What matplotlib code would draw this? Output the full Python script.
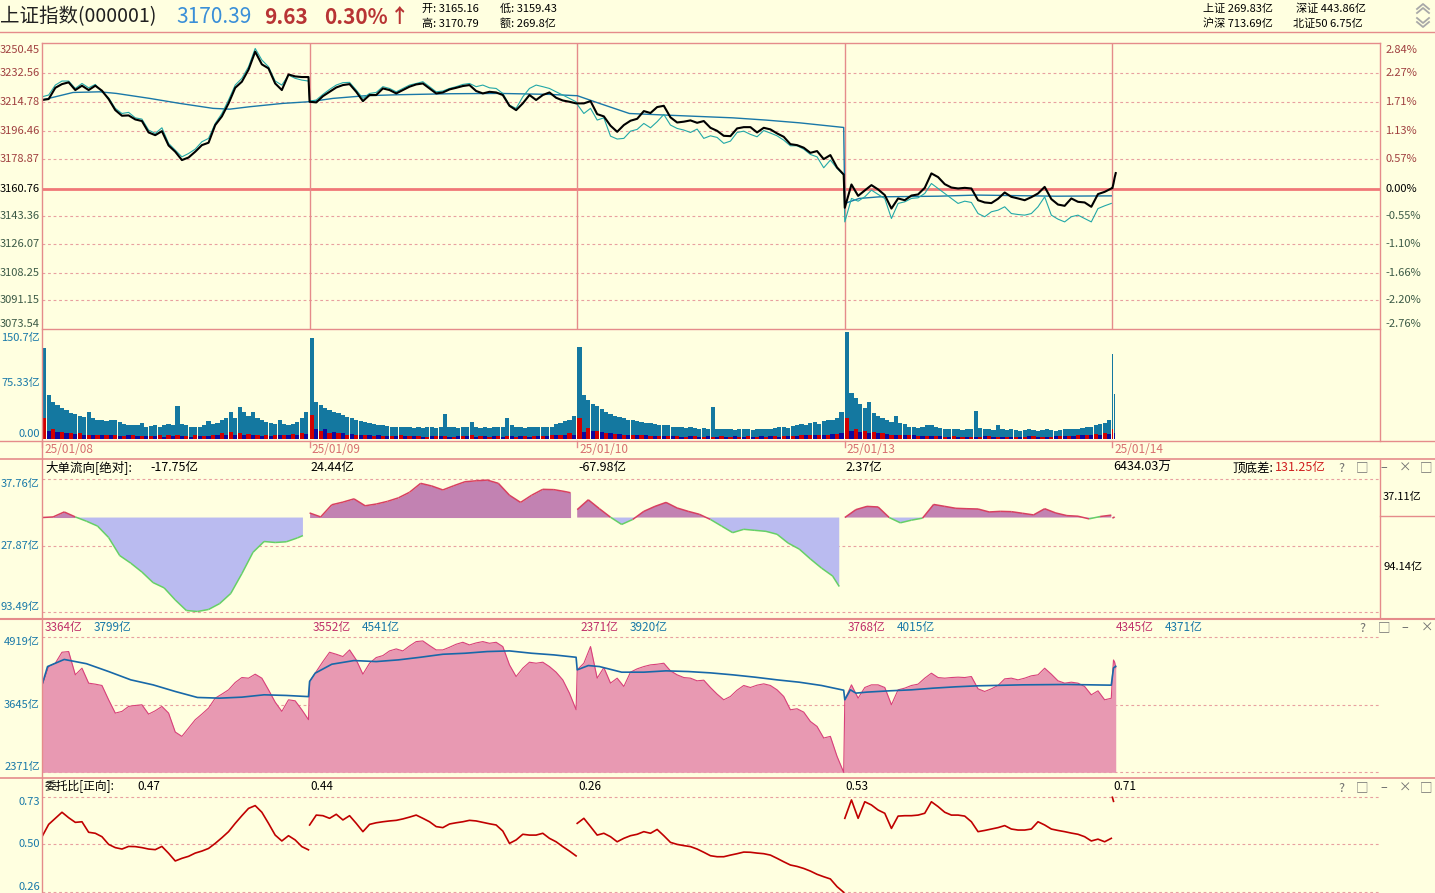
import numpy as np
import matplotlib.pyplot as plt
from matplotlib.lines import Line2D
from matplotlib.collections import LineCollection

plt.rcParams['font.family'] = ['Noto Sans CJK SC', 'DejaVu Sans']

W, H = 1435, 893
BG = '#FFFFE0'
BORDER = '#E58B8B'
GRID = '#E8A0A0'
BLUE_TXT = '#1878A8'

# ---------------- 数据 ----------------
day_labels = ['25/01/08', '25/01/09', '25/01/10', '25/01/13', '25/01/14']
prev_close = 3160.76

price_ticks = [3250.45, 3232.56, 3214.78, 3196.46, 3178.87, 3160.76,
               3143.36, 3126.07, 3108.25, 3091.15, 3073.54]
pct_ticks = ['2.84%', '2.27%', '1.71%', '1.13%', '0.57%', '0.00%',
             '-0.55%', '-1.10%', '-1.66%', '-2.20%', '-2.76%']

# 指数（每6分钟一个点）
price_d1 = [3215.9, 3216.5, 3223.5, 3225.8, 3226.9, 3222.1, 3224.8, 3222.1, 3224.8, 3221.7,
            3216.5, 3209.6, 3206.1, 3206.3, 3203.8, 3202.8, 3195.7, 3194.0, 3196.5, 3187.6,
            3183.7, 3178.5, 3180.1, 3183.7, 3187.8, 3189.3, 3200.3, 3205.7, 3213.8, 3223.5,
            3227.3, 3234.8, 3246.0, 3238.1, 3235.6, 3226.2, 3222.1, 3231.8, 3230.6, 3230.2, 3230.2]
price_d2 = [3214.8, 3214.4, 3218.3, 3221.0, 3223.7, 3225.2, 3225.8, 3221.0, 3215.2, 3219.0,
            3219.0, 3223.1, 3222.1, 3220.0, 3222.1, 3224.2, 3225.6, 3226.2, 3223.1, 3220.0,
            3220.6, 3222.5, 3223.5, 3224.6, 3225.2, 3221.5, 3220.0, 3221.0, 3220.6, 3219.0,
            3212.3, 3209.6, 3213.8, 3219.0, 3215.9, 3219.0, 3220.6, 3217.3, 3215.6, 3214.8, 3213.8]
price_d3 = [3213.8, 3213.8, 3215.2, 3207.1, 3205.7, 3199.9, 3196.1, 3200.3, 3203.0, 3204.2,
            3209.0, 3207.8, 3211.5, 3212.3, 3205.1, 3201.9, 3202.4, 3203.2, 3201.7, 3202.8,
            3198.6, 3196.7, 3193.6, 3193.4, 3198.2, 3199.0, 3199.0, 3195.7, 3198.6, 3197.6,
            3195.1, 3193.0, 3188.4, 3187.8, 3186.2, 3183.0, 3184.1, 3179.1, 3181.6, 3173.9, 3169.5]
price_d4 = [3148.8, 3163.3, 3156.2, 3159.6, 3162.9, 3160.2, 3156.7, 3148.3, 3154.6, 3153.5,
            3156.4, 3157.1, 3161.2, 3170.2, 3167.9, 3163.5, 3161.4, 3160.8, 3161.2, 3160.8,
            3153.5, 3152.1, 3151.7, 3154.4, 3158.3, 3155.6, 3154.6, 3153.5, 3155.4, 3157.7,
            3161.8, 3154.2, 3150.8, 3150.0, 3154.6, 3152.5, 3152.1, 3149.4, 3157.3, 3158.7, 3160.8]
price_d5 = [3161.0, 3164.0, 3167.5, 3170.39]

# 领先指标（细青线）
lead_d1 = [3217.9, 3219.0, 3225.2, 3227.7, 3227.7, 3223.1, 3226.2, 3223.5, 3225.6, 3221.0,
           3217.3, 3210.7, 3207.5, 3208.2, 3204.8, 3204.0, 3197.2, 3195.1, 3198.6, 3188.9,
           3184.7, 3180.5, 3182.6, 3185.3, 3189.9, 3192.0, 3201.3, 3207.5, 3215.9, 3225.2,
           3229.4, 3236.6, 3248.0, 3240.8, 3236.6, 3227.7, 3225.2, 3231.4, 3229.4, 3228.3, 3227.7]
lead_d2 = [3215.2, 3215.9, 3219.4, 3222.5, 3225.2, 3226.7, 3226.9, 3222.1, 3216.9, 3220.0,
           3220.6, 3224.2, 3223.1, 3221.0, 3223.1, 3225.2, 3226.2, 3227.3, 3224.2, 3221.0,
           3221.5, 3223.1, 3224.2, 3225.6, 3226.2, 3224.2, 3225.2, 3223.5, 3223.1, 3220.0,
           3212.7, 3210.7, 3217.9, 3223.1, 3225.2, 3224.2, 3223.1, 3221.0, 3219.0, 3216.9, 3214.8]
lead_d3 = [3213.2, 3207.5, 3210.7, 3203.4, 3204.8, 3193.4, 3191.6, 3192.0, 3196.5, 3197.6,
           3201.3, 3198.6, 3202.4, 3206.9, 3200.3, 3198.2, 3197.2, 3195.7, 3197.8, 3192.0,
           3193.6, 3192.6, 3188.9, 3190.3, 3195.7, 3196.5, 3194.5, 3193.0, 3196.9, 3195.3,
           3193.6, 3190.9, 3187.4, 3187.4, 3185.3, 3182.0, 3180.5, 3173.7, 3178.5, 3173.3, 3169.1]
lead_d4 = [3140.0, 3154.6, 3152.9, 3155.6, 3159.8, 3157.1, 3154.6, 3142.1, 3151.5, 3152.5,
           3154.6, 3155.0, 3157.7, 3163.9, 3160.8, 3157.7, 3154.6, 3151.5, 3152.9, 3152.1,
           3145.2, 3143.2, 3146.3, 3147.3, 3149.4, 3145.2, 3144.6, 3144.2, 3145.2, 3149.4,
           3155.6, 3144.2, 3141.7, 3140.0, 3143.2, 3144.2, 3142.1, 3140.0, 3148.3, 3150.0, 3151.5]

# 均价线
avg_t = [[0, 28, 52, 67, 97, 124, 154, 169, 187, 217, 240],
         [0, 21, 51, 81, 126, 171, 216, 240],
         [0, 20, 47, 80, 140, 170, 200, 240],
         [0, 13, 31, 84, 119, 190, 240]]
avg_v = [[3215.9, 3220.6, 3221.0, 3220.0, 3216.9, 3213.8, 3210.7, 3210.2, 3211.7, 3213.8, 3214.8],
         [3214.8, 3216.9, 3218.6, 3219.2, 3219.8, 3220.0, 3219.4, 3218.6],
         [3218.6, 3213.8, 3207.5, 3206.5, 3204.8, 3203.4, 3201.7, 3198.8],
         [3151.5, 3154.6, 3155.6, 3156.0, 3156.7, 3156.0, 3156.2]]

# 成交额（每4分钟一根，亿）
vol_d1 = [135, 65, 55, 50, 46, 42, 38, 36, 34, 32, 39, 30, 28, 27, 26, 27, 28, 25, 22, 20,
          21, 20, 24, 18, 19, 20, 18, 20, 22, 20, 49, 22, 20, 18, 17, 18, 20, 26, 22, 24,
          28, 30, 39, 30, 47, 39, 34, 39, 30, 28, 25, 23, 22, 27, 22, 20, 22, 25, 30, 39]
vol_d2 = [150, 55, 50, 46, 43, 40, 38, 35, 32, 30, 28, 26, 25, 24, 22, 21, 20, 19, 18, 18,
          17, 17, 18, 16, 17, 16, 17, 18, 16, 17, 36, 18, 17, 16, 17, 18, 25, 17, 16, 17,
          16, 17, 18, 17, 31, 20, 18, 17, 16, 17, 18, 17, 18, 17, 18, 22, 24, 26, 28, 34]
vol_d3 = [137, 65, 58, 52, 48, 44, 40, 36, 34, 32, 30, 28, 27, 26, 25, 24, 23, 22, 21, 20,
          20, 18, 18, 17, 16, 17, 16, 15, 16, 15, 47, 15, 14, 15, 14, 13, 14, 15, 14, 13,
          14, 15, 14, 15, 16, 17, 18, 16, 19, 20, 22, 21, 24, 25, 22, 26, 28, 27, 30, 40]
vol_d4 = [160, 68, 60, 52, 46, 54, 38, 33, 30, 27, 25, 34, 24, 22, 18, 17, 16, 17, 20, 21,
          18, 16, 15, 14, 15, 14, 13, 14, 15, 41, 16, 15, 14, 13, 20, 14, 13, 14, 13, 12,
          13, 14, 13, 12, 13, 14, 13, 12, 13, 14, 15, 14, 15, 16, 17, 18, 20, 22, 24, 27]
vol_d5 = [127, 67]

# 主买/主卖（每8分钟）
buy = [[30, 14, 10, 9, 8, 6, 5, 6, 5, 4, 5, 4, 4, 5, 6, 5, 4, 5, 4, 6, 8, 10, 9, 7, 6, 5, 5, 6, 7, 8],
       [35, 12, 9, 8, 6, 5, 5, 4, 4, 4, 5, 4, 4, 3, 4, 4, 3, 4, 5, 4, 3, 4, 4, 3, 4, 4, 4, 5, 6, 8],
       [30, 16, 12, 8, 7, 6, 5, 5, 4, 4, 4, 4, 3, 4, 3, 3, 4, 3, 3, 4, 3, 3, 4, 4, 4, 5, 5, 5, 6, 7],
       [30, 14, 12, 10, 8, 6, 5, 5, 4, 4, 4, 3, 4, 3, 3, 3, 4, 3, 3, 3, 3, 4, 3, 3, 4, 4, 5, 6, 7, 8]]
sell = [[12, 10, 8, 7, 6, 6, 5, 5, 4, 5, 4, 4, 4, 3, 4, 4, 3, 4, 4, 5, 6, 6, 5, 5, 4, 4, 5, 5, 6, 7],
        [15, 14, 10, 8, 7, 6, 5, 5, 4, 4, 4, 4, 3, 4, 4, 3, 4, 4, 3, 4, 4, 3, 4, 4, 3, 4, 4, 5, 5, 6],
        [10, 12, 10, 9, 7, 6, 6, 5, 4, 4, 4, 3, 4, 3, 4, 3, 3, 4, 3, 3, 4, 4, 3, 4, 4, 5, 5, 6, 7, 8],
        [12, 10, 9, 8, 7, 6, 5, 5, 4, 4, 4, 3, 3, 3, 3, 4, 3, 3, 3, 3, 4, 3, 3, 4, 4, 4, 5, 5, 6, 7]]
buy_d5, sell_d5 = 15, 9

# 大单流向（亿，每10分钟）
flow_t = [list(range(0, 231, 10)) + [235], list(range(0, 231, 10)) + [235],
          list(range(0, 231, 10)) + [236], list(range(0, 241, 10)), [0, 2]]
flow_v = [[0, 0.6, 5.5, 0.6, -3.6, -8.4, -19.7, -37.5, -45.0, -53.7, -64.1, -69.3, -81.2,
           -91.6, -92.6, -90.6, -84.8, -74.8, -55.3, -34.3, -23.6, -24.6, -23.9, -20.1, -17.75],
          [4.5, 0.6, 12.6, 15.2, 18.4, 11.6, 13.3, 15.9, 19.4, 24.9, 33.7, 31.1, 27.2,
           31.4, 35.3, 36.2, 36.9, 33.7, 22.0, 14.9, 22.0, 27.8, 27.5, 25.6, 24.44],
          [7.8, 17.5, 8.7, 0.3, -6.8, -1.9, 6.1, 11.0, 14.9, 9.4, 6.1, 3.2, -1.9,
           -8.4, -14.9, -11.6, -12.6, -13.6, -16.5, -25.2, -31.1, -40.8, -49.8, -57.6, -67.98],
          [0, 7.8, 11.0, 10.4, 0, -5.2, -2.6, -0.6, 12.9, 11.0, 9.1, 8.7, 8.4,
           5.5, 6.1, 5.8, 4.2, 2.6, 8.7, 4.5, 1.9, 1.3, -1.3, 1.0, 2.37],
          [-0.6, 0.64]]
flow_head = ['-17.75亿', '24.44亿', '-67.98亿', '2.37亿', '6434.03万']

# 成交额累计（亿，每6分钟）
amt_d1 = [3990, 4366, 4429, 4636, 4649, 4210, 4335, 4053, 4034, 4009, 3739, 3488, 3520, 3614,
          3632, 3645, 3469, 3532, 3614, 3488, 3131, 3049, 3206, 3363, 3469, 3583, 3770, 3846,
          3927, 4065, 4159, 4147, 4222, 4147, 3927, 3695, 3520, 3739, 3720, 3551, 3364]
amt_d2 = [4084, 4272, 4460, 4636, 4598, 4555, 4680, 4492, 4222, 4429, 4536, 4573, 4661, 4699,
          4661, 4755, 4837, 4849, 4762, 4680, 4680, 4730, 4787, 4824, 4774, 4812, 4837, 4805,
          4824, 4743, 4398, 4178, 4335, 4448, 4429, 4448, 4366, 4260, 4115, 3865, 3552]
amt_d3 = [4304, 4429, 4743, 4147, 4347, 4053, 4147, 3990, 4260, 4323, 4366, 4398, 4410, 4429,
          4285, 4210, 4159, 4147, 4097, 4109, 3971, 3846, 3739, 3802, 3921, 4009, 3971, 4015,
          4040, 4009, 3927, 3802, 3551, 3570, 3507, 3331, 3237, 3018, 3049, 2673, 2371]
amt_d4 = [3739, 4021, 3770, 3971, 4021, 4021, 3971, 3645, 3927, 3959, 4009, 4034, 4147, 4241,
          4159, 4147, 4159, 4166, 4159, 4178, 3946, 3896, 3946, 4009, 4134, 4147, 4115, 4147,
          4191, 4210, 4335, 4222, 4097, 4053, 4071, 4053, 3990, 3833, 3908, 3739, 3768]
amt_d5 = [4180, 4490, 4450, 4345]
amt_avg_t = [[0, 5, 20, 40, 60, 80, 100, 120, 140, 160, 180, 200, 220, 240],
             [0, 5, 20, 40, 60, 80, 100, 120, 140, 160, 180, 200, 220, 240],
             [0, 10, 20, 40, 60, 80, 100, 120, 140, 160, 180, 200, 220, 240],
             [0, 5, 10, 20, 40, 60, 80, 100, 120, 160, 200, 240],
             [0, 1, 3]]
amt_avg_v = [[4021, 4366, 4500, 4420, 4272, 4115, 4021, 3896, 3783, 3770, 3789, 3833, 3821, 3799],
             [4084, 4241, 4410, 4479, 4460, 4492, 4542, 4598, 4617, 4649, 4661, 4617, 4586, 4541],
             [4304, 4385, 4366, 4260, 4260, 4285, 4272, 4247, 4210, 4166, 4115, 4071, 4009, 3920],
             [3739, 3927, 3865, 3884, 3908, 3927, 3959, 3984, 4003, 4021, 4028, 4015],
             [4180, 4340, 4371]]
amt_head = [('3364亿', '3799亿'), ('3552亿', '4541亿'), ('2371亿', '3920亿'),
            ('3768亿', '4015亿'), ('4345亿', '4371亿')]

# 委托比（每6分钟）
ratio_d1 = [0.535, 0.596, 0.626, 0.656, 0.629, 0.606, 0.609, 0.557, 0.552, 0.535, 0.497,
            0.481, 0.474, 0.487, 0.486, 0.481, 0.474, 0.471, 0.487, 0.453, 0.415, 0.428,
            0.438, 0.454, 0.464, 0.477, 0.502, 0.530, 0.560, 0.601, 0.639, 0.675, 0.689,
            0.656, 0.601, 0.543, 0.514, 0.540, 0.519, 0.486, 0.47]
ratio_d2 = [0.593, 0.642, 0.639, 0.626, 0.646, 0.618, 0.639, 0.601, 0.560, 0.596, 0.604,
            0.609, 0.613, 0.616, 0.623, 0.632, 0.642, 0.626, 0.609, 0.585, 0.580, 0.598,
            0.604, 0.609, 0.616, 0.613, 0.606, 0.599, 0.593, 0.563, 0.502, 0.519, 0.547,
            0.543, 0.543, 0.552, 0.527, 0.510, 0.486, 0.464, 0.44]
ratio_d3 = [0.601, 0.626, 0.585, 0.543, 0.552, 0.535, 0.510, 0.527, 0.540, 0.547, 0.560,
            0.552, 0.571, 0.540, 0.507, 0.497, 0.491, 0.486, 0.474, 0.458, 0.441, 0.436,
            0.436, 0.444, 0.451, 0.459, 0.458, 0.454, 0.451, 0.444, 0.428, 0.411, 0.395,
            0.388, 0.378, 0.365, 0.349, 0.337, 0.326, 0.288, 0.26]
ratio_d4 = [0.626, 0.717, 0.626, 0.708, 0.692, 0.667, 0.651, 0.576, 0.637, 0.639, 0.639,
            0.642, 0.651, 0.708, 0.684, 0.656, 0.642, 0.642, 0.637, 0.609, 0.560, 0.566,
            0.573, 0.580, 0.590, 0.573, 0.568, 0.568, 0.573, 0.609, 0.593, 0.573, 0.566,
            0.560, 0.553, 0.547, 0.535, 0.514, 0.523, 0.510, 0.527]
ratio_d5 = [0.73, 0.71]
ratio_head = ['0.47', '0.44', '0.26', '0.53', '0.71']

# ---------------- 绘图 ----------------
fig = plt.figure(figsize=(W / 100, H / 100), dpi=100)
fig.patch.set_facecolor(BG)
DAY = 241
X0, X1 = 42, 1380


def rect(x0, y0, x1, y1):
    return [x0 / W, 1 - y1 / H, (x1 - x0) / W, (y1 - y0) / H]


def ptext(x, y, s, size=8, color='#000000', ha='left', va='center', **kw):
    fig.text(x / W, 1 - y / H, s, fontsize=size, color=color, ha=ha, va=va, **kw)


def pline(xs, ys, color=BORDER, lw=1.0, **kw):
    fig.add_artist(Line2D([x / W for x in xs], [1 - y / H for y in ys],
                          color=color, lw=lw, **kw))


def make_ax(y0, y1, ylim):
    ax = fig.add_axes(rect(X0, y0, X1, y1))
    ax.set_facecolor('none')
    ax.set_xlim(0, 5 * DAY)
    ax.set_ylim(*ylim)
    for s in ax.spines.values():
        s.set_visible(False)
    ax.set_xticks([])
    ax.tick_params(axis='y', length=0, pad=1.5, labelsize=8)
    return ax


def set_ticks(ax, vals, labels, colors, vas):
    ax.set_yticks(vals, labels)
    for lab, c, va in zip(ax.get_yticklabels(), colors, vas):
        lab.set_color(c)
        lab.set_va(va)


def tx(d, n, step):
    return d * DAY + np.arange(n) * step


dash = (0, (2.5, 2.5))

# ---- 分时价格 ----
axp = make_ax(43, 329, (3073.3, 3251.4))
pcol = ['#A04040'] * 5 + ['#000000'] + ['#3C5A46'] * 5
vas = ['top'] + ['center'] * 9 + ['bottom']
set_ticks(axp, price_ticks, [f'{v:.2f}' for v in price_ticks], pcol, vas)
axr = axp.twinx()
axr.set_ylim(axp.get_ylim())
for s in axr.spines.values():
    s.set_visible(False)
axr.tick_params(axis='y', length=0, pad=4, labelsize=8)
set_ticks(axr, price_ticks, pct_ticks, pcol, vas)
for v in price_ticks[1:-1]:
    if v == prev_close:
        axp.axhline(v, color='#F07878', lw=2.0, zorder=1)
    else:
        axp.axhline(v, color=GRID, lw=0.8, ls=dash, zorder=1)
for d in range(1, 5):
    axp.axvline(d * DAY, color=BORDER, lw=1.0, zorder=1)

days_price = [price_d1, price_d2, price_d3, price_d4]
days_lead = [lead_d1, lead_d2, lead_d3, lead_d4]
px = np.concatenate([tx(d, len(a), 6) for d, a in enumerate(days_price)] + [4 * DAY + np.arange(len(price_d5))])
py = np.concatenate(days_price + [price_d5])
lx = np.concatenate([tx(d, len(a), 6) for d, a in enumerate(days_lead)])
ly = np.concatenate(days_lead)
ax_ = np.concatenate([d * DAY + np.array(t) for d, t in enumerate(avg_t)])
ay_ = np.concatenate(avg_v)
axp.plot(ax_, ay_, color='#1A78A8', lw=1.0, zorder=2)
axp.plot(lx, ly, color='#22A8A8', lw=0.8, zorder=3)
axp.plot(px, py, color='#000000', lw=1.5, zorder=4)

# ---- 成交额柱 ----
axv = make_ax(329, 441, (-3.7, 164))
set_ticks(axv, [150.7, 75.33, 0], ['150.7亿', '75.33亿', '0.00'],
          [BLUE_TXT] * 3, ['center', 'bottom', 'bottom'])
for d, vols in enumerate([vol_d1, vol_d2, vol_d3, vol_d4]):
    axv.bar(d * DAY + np.arange(len(vols)) * 4 + 2, vols, width=3.8,
            color='#1478A0', linewidth=0)
    xb = d * DAY + np.arange(len(buy[d])) * 8
    axv.bar(xb + 2, buy[d], width=3.8, color='#D00000', linewidth=0)
    axv.bar(xb + 6, sell[d], width=3.8, color='#0A0AA0', linewidth=0)
axv.bar(4 * DAY + np.arange(len(vol_d5)) + 0.5, vol_d5, width=0.9, color='#1478A0', linewidth=0)
axv.bar([4 * DAY + 0.5], [buy_d5], width=0.9, color='#D00000', linewidth=0)
axv.bar([4 * DAY + 1.5], [sell_d5], width=0.9, color='#0A0AA0', linewidth=0)

# 日期
for d, lab in enumerate(day_labels):
    xp = X0 + d * (X1 - X0) / 5
    ptext(xp + 2, 449.5, lab, size=8.5, color='#D87070')
    pline([xp, xp], [441, 447])

# ---- 大单流向 ----
axf = make_ax(460, 618, (-99.0, 56.7))
set_ticks(axf, [37.76, -27.87, -93.49], ['37.76亿', '27.87亿', '93.49亿'],
          [BLUE_TXT] * 3, ['top', 'center', 'bottom'])
for v in [37.76, -27.87, -93.49]:
    axf.axhline(v, color=GRID, lw=0.8, ls=dash, zorder=1)
for d in range(5):
    x = d * DAY + np.array(flow_t[d])
    y = np.array(flow_v[d])
    axf.fill_between(x, y, 0, where=y >= 0, interpolate=True, color='#C282B2', lw=0)
    axf.fill_between(x, y, 0, where=y <= 0, interpolate=True, color='#BABBF0', lw=0)
    segs = np.stack([np.column_stack([x[:-1], y[:-1]]), np.column_stack([x[1:], y[1:]])], axis=1)
    cols = ['#D84060' if (a + b) >= 0 else '#66D066' for a, b in zip(y[:-1], y[1:])]
    axf.add_collection(LineCollection(segs, colors=cols, lw=1.1))

ptext(45, 467.5, '大单流向[绝对]:', size=9)
ptext(150, 467.5, flow_head[0], size=9)
for d in range(1, 5):
    ptext(X0 + d * (X1 - X0) / 5 + 1, 467.5, flow_head[d], size=9)
ptext(1232, 468, '顶底差:', size=9)
ptext(1275, 468, '131.25亿', size=9, color='#D02020')
ptext(1383, 497, '37.11亿', size=8)
ptext(1383, 567, '94.14亿', size=8)
pline([1380, W], [516, 516])

# ---- 成交额累计 ----
axa = make_ax(619, 778, (2264, 5263))
set_ticks(axa, [4919, 3645, 2371], ['4919亿', '3645亿', '2371亿'],
          [BLUE_TXT] * 3, ['top', 'center', 'bottom'])
for v in [4919, 3645, 2371]:
    axa.axhline(v, color=GRID, lw=0.8, ls=dash, zorder=1)
days_amt = [amt_d1, amt_d2, amt_d3, amt_d4]
amx = np.concatenate([tx(d, len(a), 6) for d, a in enumerate(days_amt)] + [4 * DAY + np.arange(len(amt_d5))])
amy = np.concatenate(days_amt + [amt_d5])
axa.fill_between(amx, amy, 2371, color='#E899B2', lw=0, zorder=2)
axa.plot(amx, amy, color='#D8407A', lw=0.8, zorder=3)
avx = np.concatenate([d * DAY + np.array(t) for d, t in enumerate(amt_avg_t)])
avy = np.concatenate(amt_avg_v)
axa.plot(avx, avy, color='#1868A8', lw=1.2, zorder=4)
for d, (a, b) in enumerate(amt_head):
    xp = X0 + d * (X1 - X0) / 5 + 3
    ptext(xp, 627.5, a, size=8.5, color='#C0306A')
    ptext(xp + 49, 627.5, b, size=8.5, color=BLUE_TXT)

# ---- 委托比 ----
axw = make_ax(778, 893, (0.2565, 0.8255))
set_ticks(axw, [0.73, 0.50, 0.26], ['0.73', '0.50', '0.26'],
          [BLUE_TXT] * 3, ['top', 'center', 'bottom'])
for v in [0.73, 0.50, 0.26]:
    axw.axhline(v, color=GRID, lw=0.8, ls=dash, zorder=1)
for d, r in enumerate([ratio_d1, ratio_d2, ratio_d3, ratio_d4]):
    axw.plot(tx(d, len(r), 6), r, color='#C00000', lw=1.2)
axw.plot(4 * DAY + np.arange(len(ratio_d5)), ratio_d5, color='#C00000', lw=1.2)
ptext(45, 787, '委托比[正向]:', size=8.5)
ptext(137, 787, ratio_head[0], size=8.5)
for d in range(1, 5):
    ptext(X0 + d * (X1 - X0) / 5 + 1, 787, ratio_head[d], size=8.5)

# 面板图标
for yy, xs in [(468, [1341, 1362, 1384, 1405, 1426]), (628, [1362, 1384, 1405, 1427]),
               (788, [1341, 1362, 1384, 1405, 1426])]:
    for xx, s in zip(xs, ['?', '□', '–', '×', '□']):
        ptext(xx, yy, s, size=9, color='#707070', ha='center')

# ---- 边框 ----
pline([0, W], [32, 32])
pline([X0, X1], [43, 43])
pline([X0, X1], [329, 329])
pline([0, W], [441, 441])
pline([0, W], [459.5, 459.5], lw=1.2)
pline([0, W], [618.5, 618.5], lw=1.5)
pline([0, W], [778, 778], lw=1.2)
pline([X0, X0], [43, H])
pline([X1, X1], [43, 441])
pline([X1, X1], [460, 618])

# ---- 顶部信息 ----
ptext(0, 17, '上证指数(000001)', size=14, color='#202020')
ptext(176, 17, '3170.39', size=15, color='#3A8FD8')
ptext(264, 17, '9.63', size=15, color='#B83434', weight='bold')
ptext(324, 17, '0.30%', size=15, color='#B83434', weight='bold')
ptext(390, 17, '↑', size=14, color='#B83434', weight='bold')
ptext(422, 9, '开: 3165.16', size=8)
ptext(500, 9, '低: 3159.43', size=8)
ptext(422, 24, '高: 3170.79', size=8)
ptext(500, 24, '额: 269.8亿', size=8)
ptext(1203, 9, '上证 269.83亿', size=8)
ptext(1296, 9, '深证 443.86亿', size=8)
ptext(1203, 24, '沪深 713.69亿', size=8)
ptext(1293, 24, '北证50 6.75亿', size=8)
for y0 in (4, 8):
    pline([1417, 1423, 1429], [y0 + 5, y0, y0 + 5], color='#A8A8A8', lw=1.3)
for y0 in (23, 27):
    pline([1417, 1423, 1429], [y0 - 5, y0, y0 - 5], color='#A8A8A8', lw=1.3)

fig.savefig('out.png', dpi=100, facecolor=BG)
